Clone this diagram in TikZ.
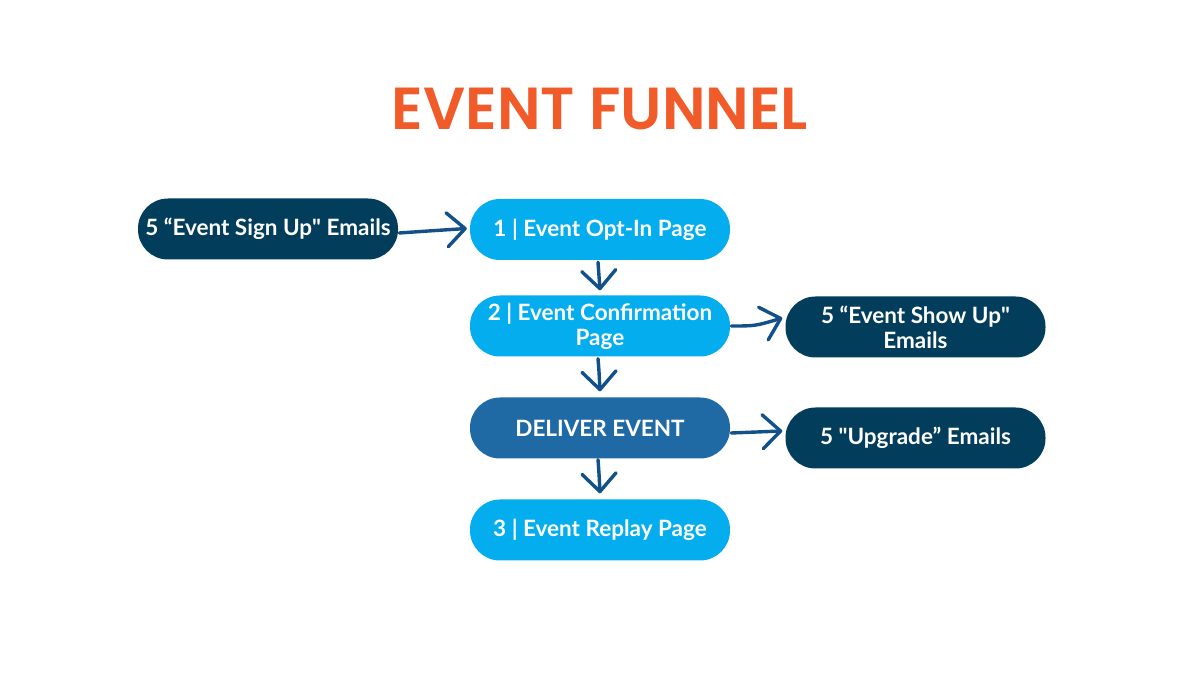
\documentclass[tikz,border=0pt]{standalone}
\usepackage{fontspec}
\setmainfont{Lato}
\newfontfamily\titlefont{Poppins SemiBold}
\usetikzlibrary{arrows.meta,positioning,calc}
\definecolor{navy}{HTML}{023D5B}
\definecolor{lightblue}{HTML}{03ADEE}
\definecolor{midblue}{HTML}{1F6AA5}
\definecolor{arrowblue}{HTML}{12508A}
\definecolor{titleorange}{HTML}{F15A29}
\begin{document}
\begin{tikzpicture}[x=1pt,y=1pt,
  pill/.style={rounded corners=30pt, minimum width=260pt, minimum height=61pt, inner sep=0pt, align=center, text=white, font=\fontsize{22.5}{25}\selectfont\bfseries},
  darkpill/.style={pill, fill=navy},
  lightpill/.style={pill, fill=lightblue},
  midpill/.style={pill, fill=midblue},
  flow/.style={draw=arrowblue, line width=3.4pt, line cap=round, -{Straight Barb[length=18pt,width=34pt,line width=3.4pt,round]}}
]
\useasboundingbox (0,0) rectangle (1200,675);
\fill[white] (0,0) rectangle (1200,675);
\node[text=titleorange] (title) at (600,566) {\resizebox{416pt}{!}{\titlefont EVENT FUNNEL}};
\node[darkpill] (su) at (268,446) {5 “Event Sign Up\textquotedbl{} Emails};
\node[lightpill] (oi) at (600,445.5) {1 | Event Opt-In Page};
\node[lightpill] (cf) at (600,349) {2 | Event Confirmation\\Page};
\node[darkpill] (sh) at (915.5,348) {5 “Event Show Up\textquotedbl\\Emails};
\node[midpill] (dv) at (600,247) {DELIVER EVENT};
\node[darkpill] (ug) at (915.5,237) {5 \textquotedbl{}Upgrade” Emails};
\node[lightpill] (rp) at (600,145) {3 | Event Replay Page};
\draw[flow] ($(su.east)+(1,-4)$) .. controls ($(su.east)+(30,-2)$) .. ($(oi.west)+(-3,1)$);
\draw[flow] ($(oi.south)+(-2,-2)$) .. controls ($(oi.south)+(-1,-14)$) .. ($(cf.north)+(0,5)$);
\draw[flow] ($(cf.east)+(1,0)$) .. controls ($(cf.east)+(25,0)$) .. ($(sh.west)+(-3,9)$);
\draw[flow] ($(cf.south)+(-2,-2)$) .. controls ($(cf.south)+(-1,-14)$) .. ($(dv.north)+(0,6)$);
\draw[flow] ($(dv.east)+(1,-5)$) .. controls ($(dv.east)+(25,-4)$) .. ($(ug.west)+(-3,7)$);
\draw[flow] ($(dv.south)+(-2,-1)$) .. controls ($(dv.south)+(-1,-14)$) .. ($(rp.north)+(0,6)$);
\end{tikzpicture}
\end{document}
